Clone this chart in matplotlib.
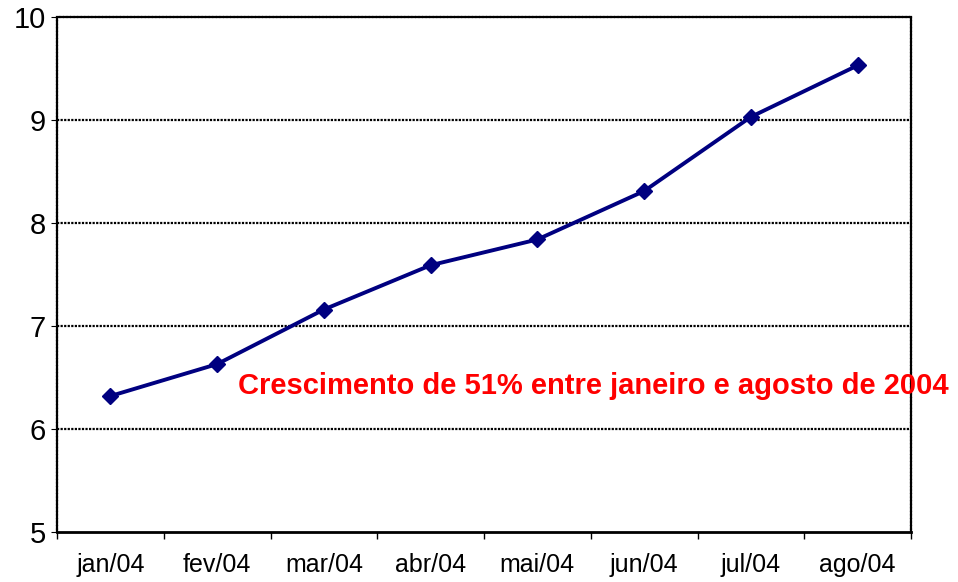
import numpy as np
import matplotlib.pyplot as plt

plt.rcParams['font.family'] = ['Liberation Sans', 'DejaVu Sans']

meses = ['jan/04', 'fev/04', 'mar/04', 'abr/04', 'mai/04', 'jun/04', 'jul/04', 'ago/04']
valores = [6.32, 6.63, 7.16, 7.59, 7.84, 8.31, 9.03, 9.53]

fig = plt.figure(figsize=(9.58, 5.82), dpi=100)
ax = fig.add_axes([57/958, 1 - 532/582, (911-57)/958, (532-17)/582])

x = np.arange(len(meses))
ax.plot(x, valores, color='#000080', linewidth=2.8, marker='D', markersize=8)

ax.set_xlim(-0.5, len(meses) - 0.5)
ax.set_ylim(5, 10)
ax.set_yticks([5, 6, 7, 8, 9, 10])
ax.set_xticks(np.arange(-0.5, len(meses), 1))
ax.set_xticklabels([])
ax.set_xticks(x, minor=True)
ax.set_xticklabels(meses, minor=True, fontsize=18)
ax.tick_params(axis='x', which='minor', length=0, pad=15)
ax.tick_params(axis='x', which='major', length=5, direction='out', width=1)
ax.tick_params(axis='y', labelsize=21, length=4, direction='out', pad=4)

for v in [6, 7, 8, 9]:
    ax.axhline(v, color='black', linestyle=(0, (1, 0.6)), linewidth=1.6, zorder=0)

for s in ['top', 'right', 'left']:
    ax.spines[s].set_linestyle((0, (1, 0.6)))
    ax.spines[s].set_linewidth(1.6)
ax.spines['bottom'].set_linewidth(2)

ax.text(7.85, 6.42, 'Crescimento de 51% entre janeiro e agosto de 2004',
        color='red', fontsize=21, fontweight='bold', ha='right', va='center',
        clip_on=False)

fig.savefig('out.png', dpi=100)
